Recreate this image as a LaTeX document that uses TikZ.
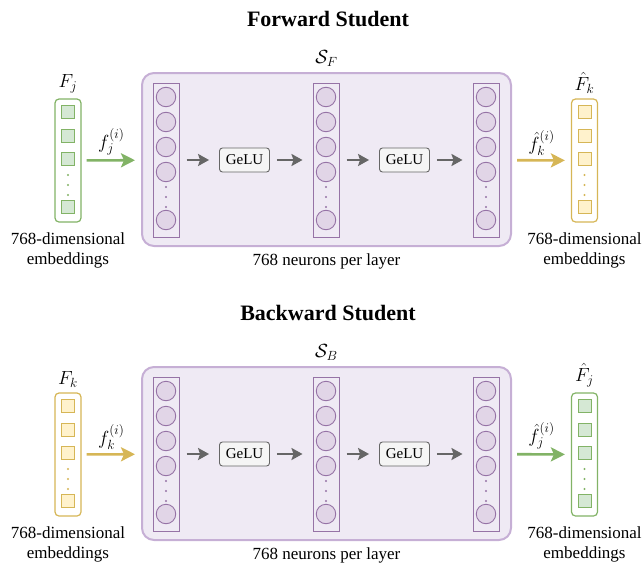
\RequirePackage{fix-cm}
\documentclass[tikz,border=0pt]{standalone}
\usepackage{fontspec}
\setmainfont{Liberation Serif}
\usetikzlibrary{arrows.meta,positioning,calc}
\definecolor{grnline}{HTML}{82B366}
\definecolor{grnfill}{HTML}{D5E8D4}
\definecolor{ylwline}{HTML}{D6B656}
\definecolor{ylwfill}{HTML}{FFF2CC}
\definecolor{purline}{HTML}{9673A6}
\definecolor{purfill}{HTML}{E1D5E7}
\definecolor{boxline}{HTML}{C6AFD5}
\definecolor{boxfill}{HTML}{EFEAF4}
\definecolor{gryline}{HTML}{666666}
\definecolor{gryfill}{HTML}{F5F5F5}
\tikzset{
    % big box of one student
    student/.style={
           rectangle,
           rounded corners=12pt,
           draw=boxline, line width=2pt,
           fill=boxfill,
           minimum width=369pt,
           minimum height=173pt},
    % one layer of neurons
    layer/.style={
           rectangle,
           draw=purline, line width=1pt,
           minimum width=26pt,
           minimum height=154pt,
           inner sep=0pt},
    neuron/.style={
           circle,
           draw=purline, line width=0.9pt,
           fill=purfill,
           minimum size=19.5pt,
           inner sep=0pt},
    % activation box
    act/.style={
           rectangle,
           rounded corners=3pt,
           draw=gryline, line width=0.9pt,
           fill=gryfill,
           minimum width=50pt,
           minimum height=24pt,
           font=\fontsize{15}{18}\selectfont},
    % embedding vector and its cells
    vec/.style={
           rectangle,
           rounded corners=4pt,
           draw=#1line, line width=1.2pt,
           fill=white,
           minimum width=26pt,
           minimum height=123pt,
           inner sep=0pt},
    cell/.style={
           rectangle,
           draw=#1line, line width=0.8pt,
           fill=#1fill,
           minimum size=13pt,
           inner sep=0pt},
    % arrows
    pass/.style={
           draw=gryline, line width=2.4pt,
           -{Stealth[length=11pt,width=12pt,inset=2pt]},
           shorten <=7pt,
           shorten >=10pt},
    flow/.style={
           draw=#1line, line width=2.6pt,
           -{Stealth[length=14pt,width=14pt,inset=3pt]},
           shorten <=5pt,
           shorten >=6pt},
    % texts
    title/.style={font=\bfseries\fontsize{22}{26}\selectfont, anchor=base},
    math/.style={font=\fontsize{19}{22}\selectfont, inner sep=1pt},
    caption/.style={align=center, font=\fontsize{17}{20}\selectfont}
}
\begin{document}
\begin{tikzpicture}[x=1pt, y=-1pt]
    \useasboundingbox (0,0) rectangle (642,570);
    \foreach \p/\sh/\ttl/\sname/\incol/\inlab/\inarr/\outcol/\outlab/\outarr in
      {f/0/Forward/F/grn/F_j/f_j/ylw/\hat{F}_k/\hat{f}_k,
       b/294/Backward/B/ylw/F_k/f_k/grn/\hat{F}_j/\hat{f}_j}{
    \begin{scope}[yshift=-\sh pt]
        \node[title] (\p-title) at (328,26) {\ttl{} Student};
        \node[student] (\p-box) at (326.5,159.5) {};
        \node[math, above=4pt of \p-box] (\p-name) {$\mathcal{S}_\sname$};
        % three layers
        \foreach \l/\x in {1/166,2/326,3/486}{
            \node[layer] (\p-l\l) at (\x,160) {};
            \foreach \n/\y in {1/97,2/122,3/147,4/172,5/220}
                \node[neuron] (\p-l\l n\n) at (\x,\y) {};
            \foreach \y in {187,197,207}
                \fill[purline] (\x,\y) circle (1.1pt);
        }
        \node[act] (\p-g1) at (244.5,160) {GeLU};
        \node[act] (\p-g2) at (404.5,160) {GeLU};
        \draw[pass] (\p-l1) -- (\p-g1);
        \draw[pass] (\p-g1) -- (\p-l2);
        \draw[pass] (\p-l2) -- (\p-g2);
        \draw[pass] (\p-g2) -- (\p-l3);
        \node[caption, below=3pt of \p-box] (\p-cap) {768 neurons per layer};
        % input embeddings
        \node[vec=\incol] (\p-in) at (68,160.5) {};
        \foreach \n/\y in {1/112,2/135.5,3/159,4/207}
            \node[cell=\incol] (\p-in\n) at (68,\y) {};
        \foreach \y in {175,185,195}
            \fill[\incol line] (68,\y) circle (1.1pt);
        \node[math, above=4pt of \p-in] (\p-inlab) {$\inlab$};
        \node[caption, below=7pt of \p-in] (\p-incap) {768-dimensional\\embeddings};
        \draw[flow=\incol] (\p-in) -- node[math, above=3pt] {$\inarr^{(i)}$} (\p-box);
        % output embeddings
        \node[vec=\outcol] (\p-out) at (584.5,160.5) {};
        \foreach \n/\y in {1/112,2/135.5,3/159,4/207}
            \node[cell=\outcol] (\p-out\n) at (584.5,\y) {};
        \foreach \y in {175,185,195}
            \fill[\outcol line] (584.5,\y) circle (1.1pt);
        \node[math, above=4pt of \p-out] (\p-outlab) {$\outlab$};
        \node[caption, below=7pt of \p-out] (\p-outcap) {768-dimensional\\embeddings};
        \draw[flow=\outcol] (\p-box) -- node[math, above=3pt] {$\outarr^{(i)}$} (\p-out);
    \end{scope}
    }
\end{tikzpicture}
\end{document}
